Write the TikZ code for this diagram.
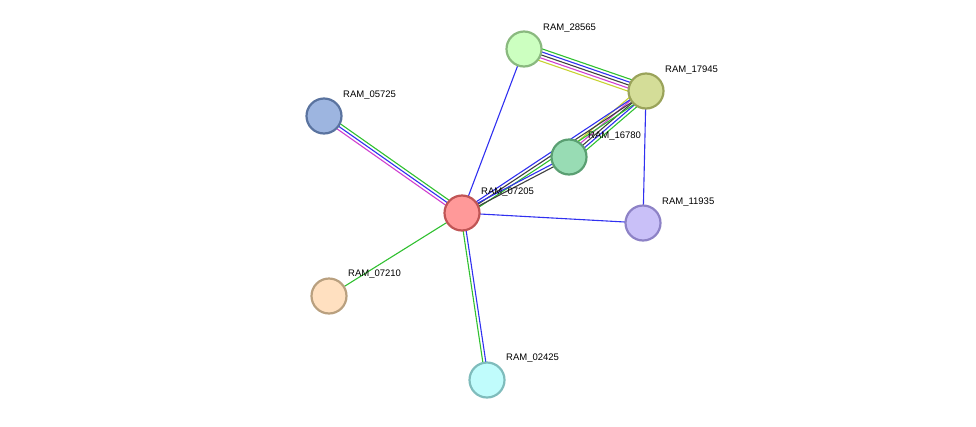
\documentclass[tikz,border=0pt]{standalone}
\usepackage{fontspec}
\setmainfont{Liberation Sans}
\usetikzlibrary{calc}
\begin{document}
\begin{tikzpicture}[x=1pt,y=-1pt,
  prot/.style={circle,minimum size=35pt,inner sep=0pt,line width=2.2pt},
  lab/.style={anchor=west,font=\fontsize{9.5}{11}\selectfont,inner sep=0pt},
  e/.style={line width=1.1pt}]
\useasboundingbox (0,0) rectangle (976,426);
\def\pedge#1#2#3{\foreach \c/\o in {#3}{\draw[e,\c] ($(#1)!\o pt!90:(#2)$) -- ($(#2)!\o pt!-90:(#1)$);}}
\definecolor{ey}{HTML}{C8D232}\definecolor{em}{HTML}{D040D0}\definecolor{ek}{HTML}{404040}
\definecolor{eb}{HTML}{3030F0}\definecolor{eg}{HTML}{30C030}
\coordinate (p28) at (524,49); \coordinate (p17) at (646,91); \coordinate (p05) at (324,116);
\coordinate (p16) at (569,157); \coordinate (p07) at (462,213); \coordinate (p11) at (643,223);
\coordinate (p10) at (329,296); \coordinate (p02) at (487,380);
\pedge{p28}{p17}{ey/-6,em/-3,ek/0,eb/3,eg/6}
\pedge{p16}{p17}{eg/-6,eb/-3,ek/0,em/3,ey/6}
\pedge{p07}{p17}{eg/-4.5,ek/-1.5,eb/1.5}
\pedge{p07}{p16}{eb/1.5,ek/-1.5}
\pedge{p07}{p05}{eg/-3,eb/0,em/3}
\pedge{p07}{p02}{eg/-1.5,eb/1.5}
\draw[e,eg] (p07)--(p10);
\draw[e,eb] (p07)--(p28);
\draw[e,eb] (p07)--(p11);
\draw[e,eb] (p17)--(p11);
\node[prot,fill={rgb,255:red,204;green,255;blue,192},draw={rgb,255:red,138;green,185;blue,127}] (n28) at (p28) {};
\node[prot,fill={rgb,255:red,212;green,221;blue,152},draw={rgb,255:red,154;green,163;blue,90}] (n17) at (p17) {};
\node[prot,fill={rgb,255:red,157;green,181;blue,224},draw={rgb,255:red,90;green,115;blue,159}] (n05) at (p05) {};
\node[prot,fill={rgb,255:red,152;green,220;blue,180},draw={rgb,255:red,90;green,159;blue,114}] (n16) at (p16) {};
\node[prot,fill={rgb,255:red,255;green,153;blue,153},draw={rgb,255:red,192;green,85;blue,85}] (n07) at (p07) {};
\node[prot,fill={rgb,255:red,201;green,192;blue,248},draw={rgb,255:red,141;green,130;blue,198}] (n11) at (p11) {};
\node[prot,fill={rgb,255:red,255;green,224;blue,192},draw={rgb,255:red,185;green,160;blue,127}] (n10) at (p10) {};
\node[prot,fill={rgb,255:red,192;green,252;blue,252},draw={rgb,255:red,127;green,188;blue,188}] (n02) at (p02) {};
\node[lab] at (543,28) {RAM\_28565};
\node[lab] at (665,70) {RAM\_17945};
\node[lab] at (343,95) {RAM\_05725};
\node[lab] at (588,136) {RAM\_16780};
\node[lab] at (481,192) {RAM\_07205};
\node[lab] at (662,202) {RAM\_11935};
\node[lab] at (348,274) {RAM\_07210};
\node[lab] at (506,358) {RAM\_02425};
\end{tikzpicture}
\end{document}
